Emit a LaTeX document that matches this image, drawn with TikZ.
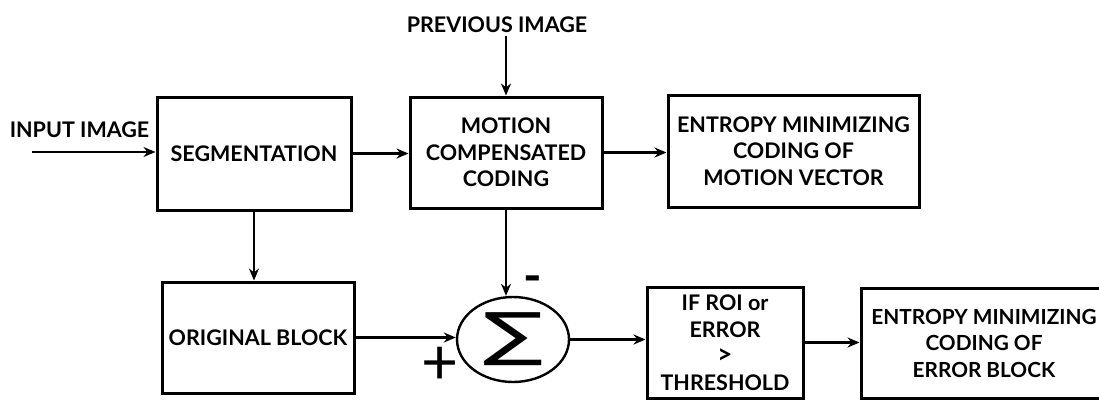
\documentclass[tikz,border=0pt]{standalone}
\usepackage{fontspec}
\setmainfont{Lato}
\newfontfamily\symfont{DejaVu Sans}
\usetikzlibrary{shapes.geometric, arrows.meta, positioning}

\begin{document}
\begin{tikzpicture}[x=1pt, y=-1pt,
        blk/.style={rectangle, draw, line width=3pt, align=center, inner sep=0pt, font=\bfseries\fontsize{21.5}{26.5}\selectfont},
        lbl/.style={align=center, font=\bfseries\fontsize{21.5}{26.5}\selectfont},
        sumnode/.style={ellipse, draw, line width=2.4pt, inner sep=0pt, minimum width=112pt, minimum height=85pt},
        flow/.style={->, line width=2.4pt, >={Stealth[length=12pt, width=10pt]}}]
    \useasboundingbox (0,0) rectangle (1099,402);

    \node[blk, minimum width=194pt, minimum height=113pt] (seg) at (254,153.5) {SEGMENTATION};
    \node[blk, minimum width=192pt, minimum height=111pt] (mcc) at (506,152.5) {MOTION\\COMPENSATED\\CODING};
    \node[blk, minimum width=251pt, minimum height=112pt] (emv) at (793.5,151) {ENTROPY MINIMIZING\\CODING OF\\MOTION VECTOR};

    \node[blk, minimum width=192pt, minimum height=111pt] (orig) at (258,337.5) {ORIGINAL BLOCK};
    \node[sumnode] (sum) at (513,339.5) {\resizebox*{60pt}{53pt}{\symfont ∑}};
    \node[blk, minimum width=156pt, minimum height=111pt] (thr) at (725,342.5) {IF ROI or\\ERROR\\{\fontsize{26}{26.5}\selectfont >}\\THRESHOLD};
    \node[blk, minimum width=246pt, minimum height=110pt, font=\bfseries\fontsize{20.8}{26.5}\selectfont] (eeb) at (984,343) {ENTROPY MINIMIZING\\CODING OF\\ERROR BLOCK};

    \node[lbl] (inp) at (79.5,130) {INPUT IMAGE};
    \coordinate (in) at (32,152);
    \node[lbl] (prev) at (497,25) {PREVIOUS IMAGE};
    \node[font=\fontsize{64}{64}\selectfont] (plus) at (440,366) {+};
    \node[font=\bfseries\fontsize{50}{50}\selectfont] (minus) at (533,285) {-};

    \draw[flow] (in) -- (in -| seg.west);
    \draw[flow] (prev.south -| mcc.north) -- (mcc.north);
    \draw[flow] (seg.east) -- (seg.east -| mcc.west);
    \draw[flow] (mcc.east) -- (mcc.east -| emv.west);
    \draw[flow] (seg.south) -- (seg.south |- orig.north);
    \draw[flow] (mcc.south) -- (mcc.south |- sum.north);
    \draw[flow] (orig.east) -- (orig.east -| sum.west);
    \draw[flow] (sum.east) -- (sum.east -| thr.west);
    \draw[flow] (thr.east) -- (thr.east -| eeb.west);
\end{tikzpicture}
\end{document}
